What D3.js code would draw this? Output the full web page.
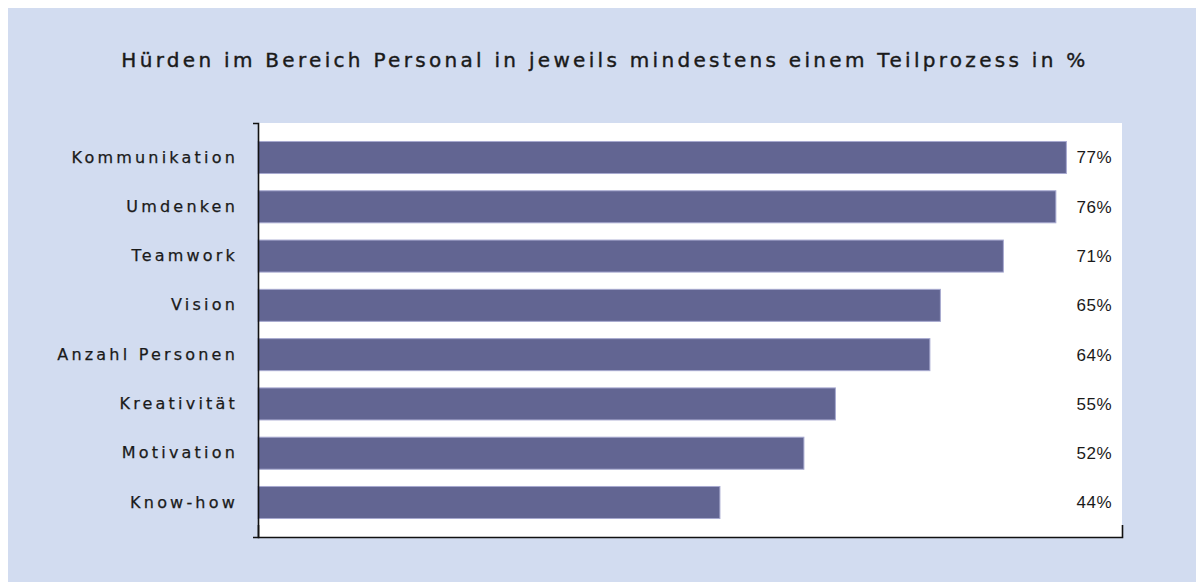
<!DOCTYPE html>
<html>
<head>
<meta charset="utf-8">
<title>Hürden im Bereich Personal</title>
<style>
  body { margin: 0; background: #fff; }
  svg text { fill: #1a1a1a; }
  .lab text { font-family: "DejaVu Sans", sans-serif; font-size: 16px; letter-spacing: 3.2px; stroke: #1a1a1a; stroke-width: 0.25px; }
  .axis path { stroke: #111; stroke-width: 1.6px; }
</style>
</head>
<body>
<svg id="viz" width="1196" height="582"></svg>
<script src="https://d3js.org/d3.v7.min.js"></script>
<script>
// Daten
const kategorien = ["Kommunikation", "Umdenken", "Teamwork", "Vision", "Anzahl Personen", "Kreativität", "Motivation", "Know-how"];
const werte = [77, 76, 71, 65, 64, 55, 52, 44];
const titel = "Hürden im Bereich Personal in jeweils mindestens einem Teilprozess in %";

const width = 1196, height = 582;
const margin = {left: 258, right: 74, top: 123, bottom: 45};

const svg = d3.select("#viz");

// Hintergrund
svg.append("rect").attr("x", 8).attr("y", 8)
  .attr("width", width - 8).attr("height", height - 8)
  .attr("fill", "#d2dcf0");

svg.append("rect")
  .attr("x", margin.left).attr("y", margin.top)
  .attr("width", width - margin.left - margin.right)
  .attr("height", height - margin.top - margin.bottom)
  .attr("fill", "#fff");

const x = d3.scaleLinear()
  .domain([0, 82.3])
  .range([margin.left, width - margin.right]);

const y = d3.scaleBand()
  .domain(kategorien)
  .range([margin.top, height - margin.bottom])
  .paddingInner(0.35)
  .paddingOuter(0.375);

// Titel
svg.append("text")
  .attr("x", 605).attr("y", 67)
  .attr("text-anchor", "middle")
  .style("font-family", "DejaVu Sans, sans-serif")
  .style("font-size", "20px")
  .style("letter-spacing", "3.3px")
  .style("stroke", "#1a1a1a")
  .style("stroke-width", "0.4px")
  .text(titel);

// Balken
svg.append("g").selectAll("rect")
  .data(werte)
  .join("rect")
  .attr("x", x(0))
  .attr("y", (d, i) => y(kategorien[i]))
  .attr("width", d => x(d) - x(0))
  .attr("height", y.bandwidth())
  .attr("fill", "#626592")
  .attr("stroke", "#a7a9d0")
  .attr("stroke-width", 1);

// Werte
svg.append("g").selectAll("text")
  .data(werte)
  .join("text")
  .attr("x", 1112)
  .attr("y", (d, i) => y(kategorien[i]) + y.bandwidth() / 2)
  .attr("dy", "0.35em")
  .attr("text-anchor", "end")
  .style("font-family", "Liberation Sans, Arial, sans-serif")
  .style("font-size", "17px")
  .style("letter-spacing", "0.5px")
  .text(d => d + "%");

// Achsen
svg.append("g")
  .attr("class", "axis lab")
  .attr("transform", `translate(${margin.left},0)`)
  .call(d3.axisLeft(y).tickSize(0).tickSizeOuter(5).tickPadding(20))
  .call(g => g.selectAll(".tick text").attr("fill", "#1a1a1a"));

svg.append("g")
  .attr("class", "axis")
  .attr("transform", `translate(0,${height - margin.bottom})`)
  .call(d3.axisTop(x).tickValues([]).tickSizeOuter(12));
</script>
</body>
</html>
